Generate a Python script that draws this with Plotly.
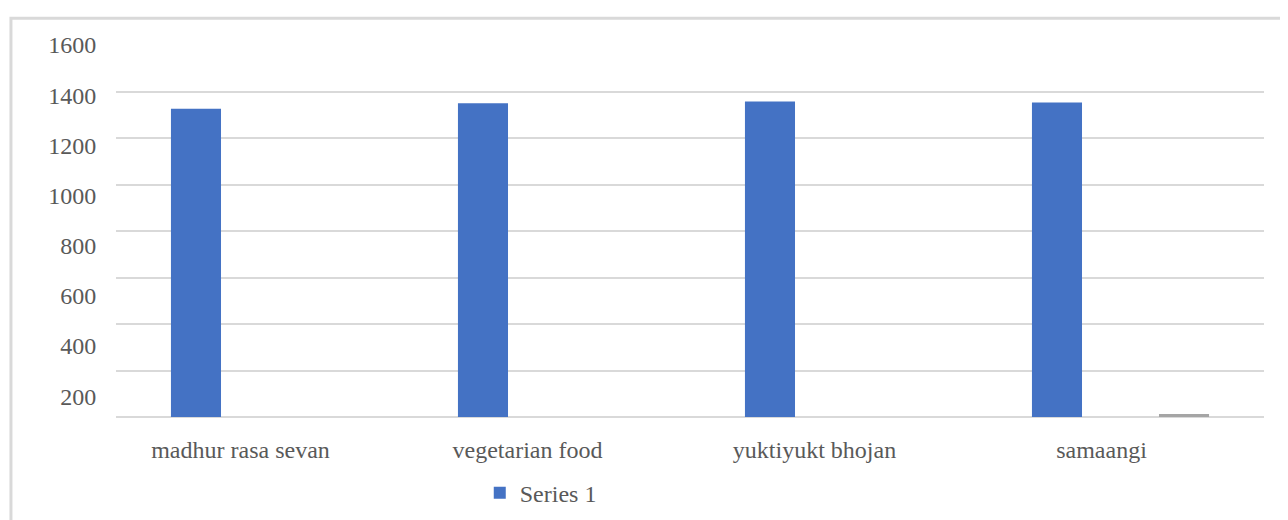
import plotly.graph_objects as go

categories = ["madhur rasa sevan", "vegetarian food", "yuktiyukt bhojan", "samaangi"]
series1 = [1326, 1349, 1357, 1353]
series2 = [0, 0, 0, 0]
series3 = [0, 0, 0, 13]
y_ticks = [200, 400, 600, 800, 1000, 1200, 1400, 1600]

FONT = dict(family="Liberation Serif", size=24, color="#595959")

fig = go.Figure()
fig.add_trace(go.Bar(name="Series 1", x=categories, y=series1, marker_color="#4472c4",
                     marker_line_width=0, showlegend=True))
fig.add_trace(go.Bar(name="Series 2", x=categories, y=series2, marker_color="#ed7d31",
                     marker_line_width=0, showlegend=False))
fig.add_trace(go.Bar(name="Series 3", x=categories, y=series3, marker_color="#a5a5a5",
                     marker_line_width=0, showlegend=False))
# helper trace that carries the label axes (invisible)
fig.add_trace(go.Scatter(x=list(range(len(categories))), y=series1, xaxis="x2", yaxis="y2",
                         mode="markers", marker=dict(opacity=0), hoverinfo="skip",
                         showlegend=False))

shift = 19 / 287.0
fig.update_layout(
    width=1288, height=520,
    margin=dict(l=108, r=32, t=37, b=108),
    paper_bgcolor="white", plot_bgcolor="white",
    font=FONT,
    barmode="group", bargap=0.336, bargroupgap=0.212,
    xaxis=dict(type="category", showticklabels=False, showgrid=False, zeroline=False,
               showline=False, range=[-0.5, 3.5]),
    yaxis=dict(range=[0, 1600], dtick=200, showticklabels=False, showgrid=True,
               gridcolor="#d9d9d9", gridwidth=2, zeroline=True, zerolinecolor="#d9d9d9",
               zerolinewidth=2, showline=False),
    xaxis2=dict(overlaying="x", side="bottom", range=[-0.5 + shift, 3.5 + shift],
                tickvals=list(range(len(categories))), ticktext=categories,
                showgrid=False, zeroline=False, showline=False,
                ticks="outside", ticklen=11, tickcolor="rgba(0,0,0,0)",
                tickfont=FONT),
    yaxis2=dict(overlaying="y", side="left", range=[117, 1600], tickvals=y_ticks,
                ticktext=[str(v) for v in y_ticks], showgrid=False, zeroline=False,
                showline=False, ticks="outside", ticklen=14, tickcolor="rgba(0,0,0,0)",
                tickfont=FONT),
    legend=dict(orientation="h", x=0.37, xanchor="center", y=-0.205, yanchor="middle",
                font=FONT),
    shapes=[dict(type="rect", xref="paper", yref="paper",
                 x0=-0.0915, x1=1.2, y0=-0.5, y1=1.072,
                 line=dict(color="#d9d9d9", width=3), fillcolor="rgba(0,0,0,0)",
                 layer="below")],
)

fig.write_html("out.html", config={"displayModeBar": False})
